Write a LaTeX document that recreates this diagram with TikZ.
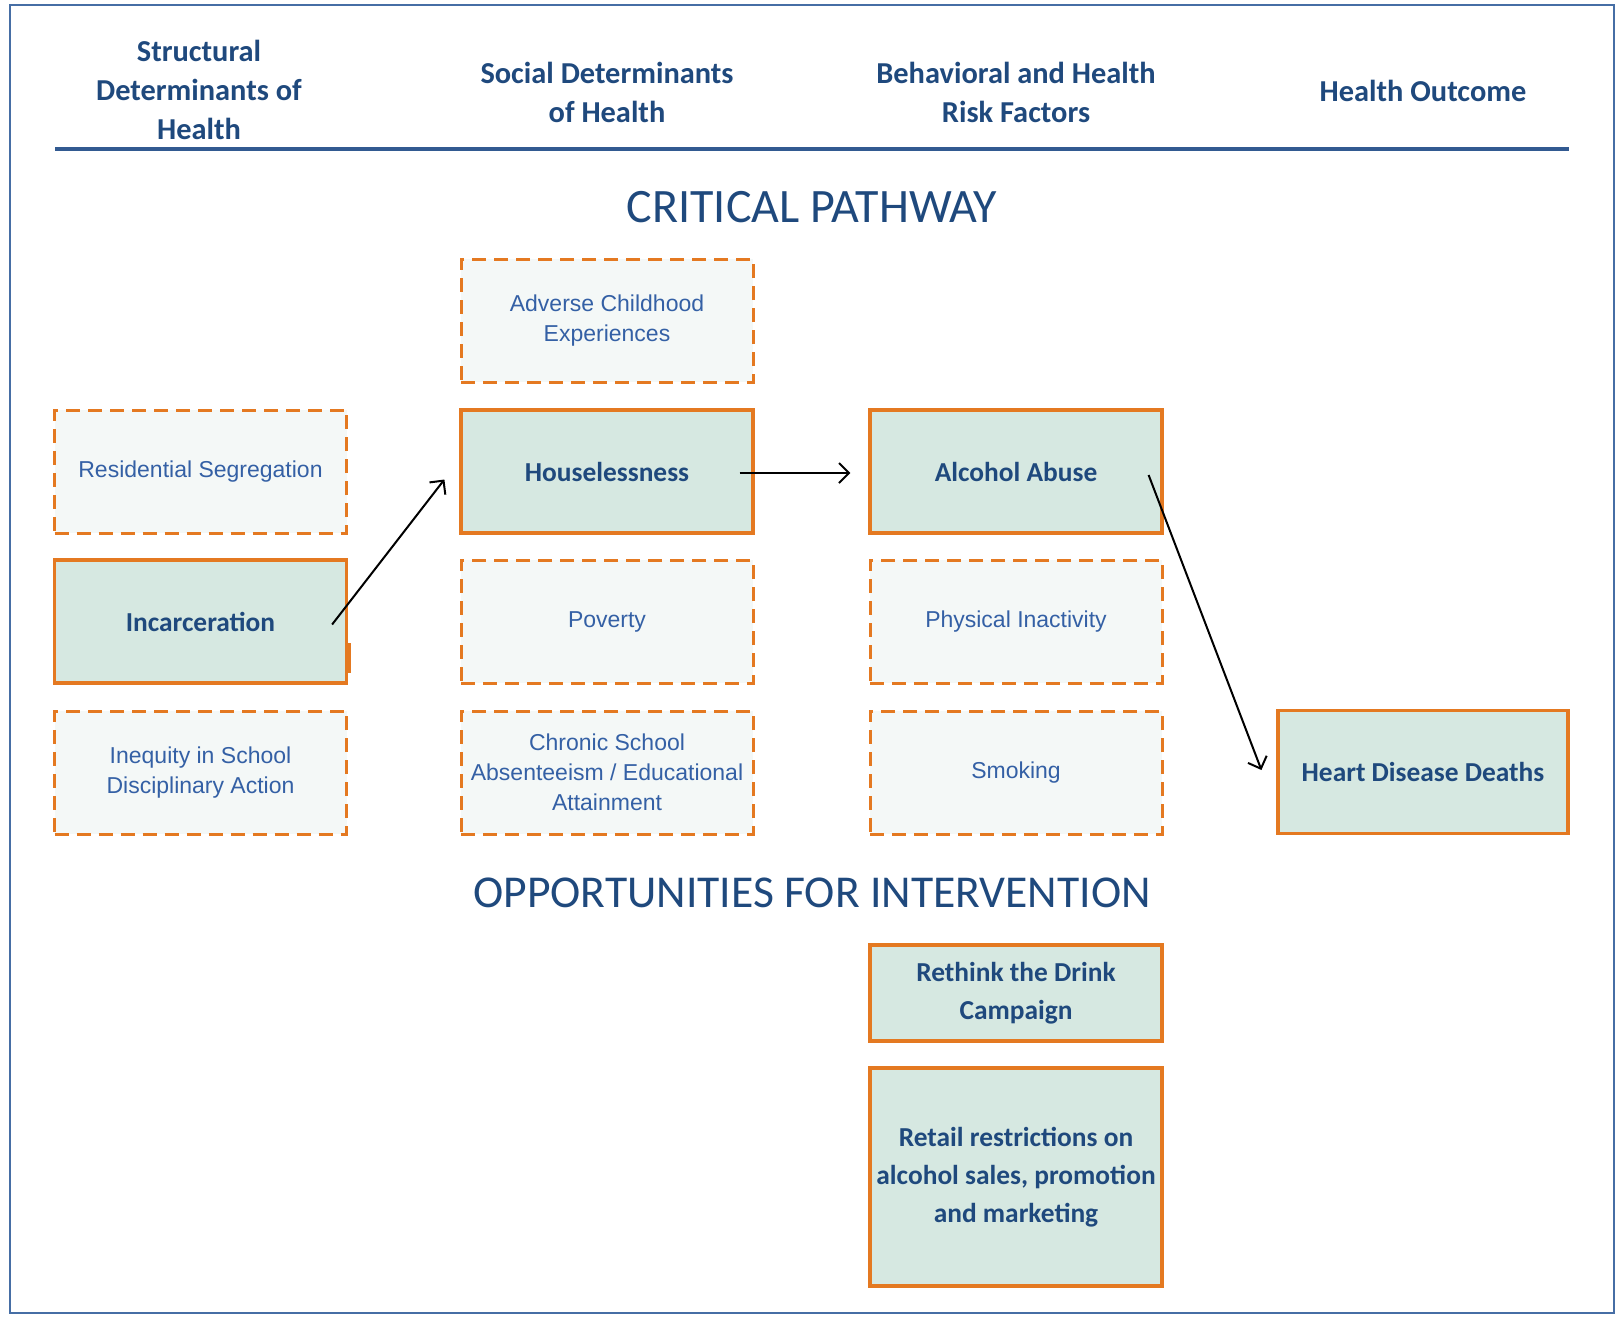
\documentclass[tikz,border=0pt]{standalone}
\usepackage{fontspec}
\setmainfont{Carlito}
\newfontfamily\plainfont{Liberation Sans}
\usetikzlibrary{arrows.meta,calc}

\definecolor{boxorange}{RGB}{228,121,33}
\definecolor{tealfill}{RGB}{214,232,225}
\definecolor{palefill}{RGB}{244,248,247}
\definecolor{navy}{RGB}{31,73,125}
\definecolor{plainblue}{RGB}{52,96,165}
\definecolor{rulecol}{RGB}{50,90,145}
\definecolor{framecol}{RGB}{70,110,165}

\tikzset{
  keybox/.style={draw=boxorange, line width=1.6pt, fill=tealfill, inner sep=0pt,
    minimum width=146pt, minimum height=61.5pt, align=center, text=navy,
    font=\fontsize{13.7}{19}\selectfont\bfseries},
  otherbox/.style={draw=boxorange, line width=1.5pt, dash pattern=on 7pt off 4pt,
    fill=palefill, inner sep=0pt, minimum width=146pt, minimum height=61.5pt,
    align=center, text=plainblue, font=\plainfont\fontsize{11.5}{15}\selectfont},
  colhead/.style={align=center, text=navy, font=\fontsize{15.2}{19.5}\selectfont\bfseries},
  sectiontitle/.style={text=navy, font=\fontsize{24}{28}\selectfont},
  pathlink/.style={draw=black, line width=1pt, -{Straight Barb[length=5pt,width=10pt,line width=1pt]}}
}

\begin{document}
\begin{tikzpicture}[x=0.5pt,y=-0.5pt]
  \useasboundingbox (0,0) rectangle (1620,1318);
  \fill[white] (0,0) rectangle (1620,1318);
  \draw[framecol, line width=0.8pt] (10,5) rectangle (1614,1313);

  % column headings
  \node[colhead] (h1) at (199,90) {Structural\\Determinants of\\Health};
  \node[colhead] (h2) at (607,92) {Social Determinants\\of Health};
  \node[colhead] (h3) at (1016,92) {Behavioral and Health\\Risk Factors};
  \node[colhead] (h4) at (1423,91) {Health Outcome};
  \draw[rulecol, line width=2pt] (55,149) -- (1569,149);

  \node[sectiontitle] (t1) at (812,207) {CRITICAL PATHWAY};

  % structural determinants
  \node[otherbox] (seg)   at (200.5,471.5) {Residential Segregation};
  \node[keybox]   (incar) at (200.5,621.5) {Incarceration};
  \node[otherbox] (school) at (200.5,772.5) {Inequity in School\\Disciplinary Action};
  \draw[boxorange, line width=2.6pt] ($(incar.south east)+(0,-12)$) -- ($(incar.south east)+(0,-42)$);

  % social determinants
  \node[otherbox] (ace)   at (607,320.5) {Adverse Childhood\\Experiences};
  \node[keybox]   (house) at (607,471.5) {Houselessness};
  \node[otherbox] (pov)   at (607,621.5) {Poverty};
  \node[otherbox] (absent) at (607,772.5) {Chronic School\\Absenteeism / Educational\\Attainment};

  % behavioral risk factors
  \node[keybox]   (alc)   at (1016,471.5) {Alcohol Abuse};
  \node[otherbox] (phys)  at (1016,621.5) {Physical Inactivity};
  \node[otherbox] (smoke) at (1016,772.5) {Smoking};

  % outcome
  \node[keybox, minimum width=145pt] (heart) at (1423,772) {Heart Disease Deaths};

  % pathway links
  \draw[pathlink] ($(incar.east)+(-16,3)$) -- ($(house.west)+(-15,8)$);
  \draw[pathlink] ($(house.east)+(-15,1.5)$) -- ($(alc.west)+(-18,1.5)$);
  \draw[pathlink] ($(alc.east)+(-15,3.5)$) -- ($(heart.west)+(-15,-2)$);

  \node[sectiontitle, font=\fontsize{22.8}{28}\selectfont] (t2) at (812,893) {OPPORTUNITIES FOR INTERVENTION};

  % interventions
  \node[keybox, minimum height=48pt] (drink) at (1016,993) {Rethink the Drink\\Campaign};
  \node[keybox, minimum height=109pt] (retail) at (1016,1177) {Retail restrictions on\\alcohol sales, promotion\\and marketing};
\end{tikzpicture}
\end{document}
